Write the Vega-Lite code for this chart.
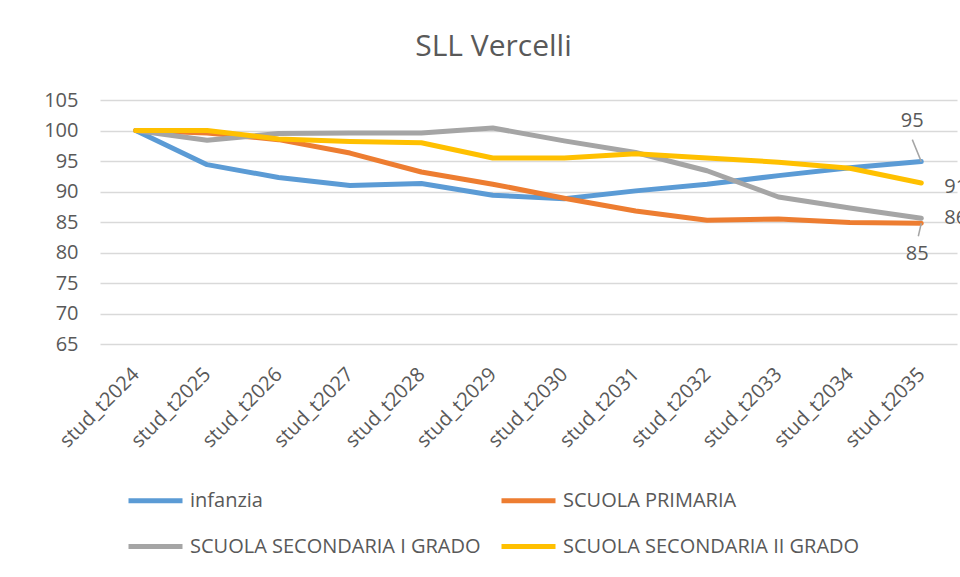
{
  "$schema": "https://vega.github.io/schema/vega-lite/v6.json",
  "width": 857,
  "height": 244,
  "autosize": {"type": "none"},
  "padding": {"left": 100, "top": 100, "right": 3, "bottom": 233},
  "background": "white",
  "title": {
    "text": "SLL Vercelli",
    "font": "Open Sans",
    "fontSize": 30,
    "fontWeight": "normal",
    "color": "#595959",
    "anchor": "middle",
    "baseline": "alphabetic",
    "offset": 4,
    "dx": -35
  },
  "config": {
    "view": {"stroke": null},
    "font": "Open Sans",
    "axis": {
      "labelFont": "Open Sans",
      "labelFontSize": 20,
      "labelColor": "#595959",
      "domain": false,
      "ticks": false,
      "title": null
    },
    "legend": {
      "labelFont": "Open Sans",
      "labelFontSize": 20,
      "labelColor": "#595959",
      "labelLimit": 0
    }
  },
  "data": {
    "values": [
      {"anno": "stud_t2024", "serie": "infanzia", "valore": 100},
      {"anno": "stud_t2025", "serie": "infanzia", "valore": 94.4},
      {"anno": "stud_t2026", "serie": "infanzia", "valore": 92.3},
      {"anno": "stud_t2027", "serie": "infanzia", "valore": 91.0},
      {"anno": "stud_t2028", "serie": "infanzia", "valore": 91.3},
      {"anno": "stud_t2029", "serie": "infanzia", "valore": 89.4},
      {"anno": "stud_t2030", "serie": "infanzia", "valore": 88.8},
      {"anno": "stud_t2031", "serie": "infanzia", "valore": 90.1},
      {"anno": "stud_t2032", "serie": "infanzia", "valore": 91.2},
      {"anno": "stud_t2033", "serie": "infanzia", "valore": 92.6},
      {"anno": "stud_t2034", "serie": "infanzia", "valore": 93.9},
      {"anno": "stud_t2035", "serie": "infanzia", "valore": 94.9},
      {"anno": "stud_t2024", "serie": "SCUOLA PRIMARIA", "valore": 100},
      {"anno": "stud_t2025", "serie": "SCUOLA PRIMARIA", "valore": 99.6},
      {"anno": "stud_t2026", "serie": "SCUOLA PRIMARIA", "valore": 98.5},
      {"anno": "stud_t2027", "serie": "SCUOLA PRIMARIA", "valore": 96.3},
      {"anno": "stud_t2028", "serie": "SCUOLA PRIMARIA", "valore": 93.2},
      {"anno": "stud_t2029", "serie": "SCUOLA PRIMARIA", "valore": 91.2},
      {"anno": "stud_t2030", "serie": "SCUOLA PRIMARIA", "valore": 88.9},
      {"anno": "stud_t2031", "serie": "SCUOLA PRIMARIA", "valore": 86.8},
      {"anno": "stud_t2032", "serie": "SCUOLA PRIMARIA", "valore": 85.3},
      {"anno": "stud_t2033", "serie": "SCUOLA PRIMARIA", "valore": 85.5},
      {"anno": "stud_t2034", "serie": "SCUOLA PRIMARIA", "valore": 84.9},
      {"anno": "stud_t2035", "serie": "SCUOLA PRIMARIA", "valore": 84.8},
      {"anno": "stud_t2024", "serie": "SCUOLA SECONDARIA I GRADO", "valore": 100},
      {"anno": "stud_t2025", "serie": "SCUOLA SECONDARIA I GRADO", "valore": 98.4},
      {"anno": "stud_t2026", "serie": "SCUOLA SECONDARIA I GRADO", "valore": 99.5},
      {"anno": "stud_t2027", "serie": "SCUOLA SECONDARIA I GRADO", "valore": 99.6},
      {"anno": "stud_t2028", "serie": "SCUOLA SECONDARIA I GRADO", "valore": 99.6},
      {"anno": "stud_t2029", "serie": "SCUOLA SECONDARIA I GRADO", "valore": 100.4},
      {"anno": "stud_t2030", "serie": "SCUOLA SECONDARIA I GRADO", "valore": 98.3},
      {"anno": "stud_t2031", "serie": "SCUOLA SECONDARIA I GRADO", "valore": 96.4},
      {"anno": "stud_t2032", "serie": "SCUOLA SECONDARIA I GRADO", "valore": 93.4},
      {"anno": "stud_t2033", "serie": "SCUOLA SECONDARIA I GRADO", "valore": 89.1},
      {"anno": "stud_t2034", "serie": "SCUOLA SECONDARIA I GRADO", "valore": 87.3},
      {"anno": "stud_t2035", "serie": "SCUOLA SECONDARIA I GRADO", "valore": 85.6},
      {"anno": "stud_t2024", "serie": "SCUOLA SECONDARIA II GRADO", "valore": 100},
      {"anno": "stud_t2025", "serie": "SCUOLA SECONDARIA II GRADO", "valore": 100},
      {"anno": "stud_t2026", "serie": "SCUOLA SECONDARIA II GRADO", "valore": 98.6},
      {"anno": "stud_t2027", "serie": "SCUOLA SECONDARIA II GRADO", "valore": 98.2},
      {"anno": "stud_t2028", "serie": "SCUOLA SECONDARIA II GRADO", "valore": 98.0},
      {"anno": "stud_t2029", "serie": "SCUOLA SECONDARIA II GRADO", "valore": 95.5},
      {"anno": "stud_t2030", "serie": "SCUOLA SECONDARIA II GRADO", "valore": 95.5},
      {"anno": "stud_t2031", "serie": "SCUOLA SECONDARIA II GRADO", "valore": 96.2},
      {"anno": "stud_t2032", "serie": "SCUOLA SECONDARIA II GRADO", "valore": 95.5},
      {"anno": "stud_t2033", "serie": "SCUOLA SECONDARIA II GRADO", "valore": 94.8},
      {"anno": "stud_t2034", "serie": "SCUOLA SECONDARIA II GRADO", "valore": 93.8},
      {"anno": "stud_t2035", "serie": "SCUOLA SECONDARIA II GRADO", "valore": 91.4}
    ]
  },
  "encoding": {
    "x": {
      "field": "anno",
      "type": "ordinal",
      "sort": null,
      "scale": {"type": "point", "padding": 0.5},
      "axis": {
        "labelAngle": -45,
        "labelAlign": "right",
        "labelBaseline": "middle",
        "labelPadding": 27,
        "grid": false
      }
    },
    "y": {
      "field": "valore",
      "type": "quantitative",
      "scale": {"domain": [65, 105], "nice": false, "zero": false},
      "axis": {
        "values": [65, 70, 75, 80, 85, 90, 95, 100, 105],
        "labelPadding": 22,
        "grid": true,
        "gridColor": "#d9d9d9",
        "gridWidth": 1.5
      }
    }
  },
  "layer": [
    {
      "mark": {"type": "line", "strokeWidth": 5, "strokeCap": "round", "strokeJoin": "round"},
      "encoding": {
        "color": {
          "field": "serie",
          "type": "nominal",
          "scale": {
            "domain": ["infanzia", "SCUOLA PRIMARIA", "SCUOLA SECONDARIA I GRADO", "SCUOLA SECONDARIA II GRADO"],
            "range": ["#5B9BD5", "#ED7D31", "#A5A5A5", "#FFC000"]
          },
          "legend": {
            "title": null,
            "orient": "none",
            "legendX": 26,
            "legendY": 371,
            "columns": 2,
            "direction": "horizontal",
            "symbolType": "stroke",
            "symbolSize": 2916,
            "symbolStrokeWidth": 5,
            "labelOffset": 5,
            "columnPadding": 10,
            "rowPadding": 6,
            "padding": 0
          }
        }
      }
    },
    {
      "transform": [{"filter": "datum.anno == 'stud_t2035' && datum.serie == 'infanzia'"}],
      "mark": {"type": "rule", "color": "#A5A5A5", "strokeWidth": 1.5, "x2Offset": -9, "y2Offset": -22},
      "encoding": {"x2": {"field": "anno"}, "y2": {"field": "valore"}}
    },
    {
      "transform": [{"filter": "datum.anno == 'stud_t2035' && datum.serie == 'SCUOLA PRIMARIA'"}],
      "mark": {"type": "rule", "color": "#A5A5A5", "strokeWidth": 1.5, "x2Offset": -3, "y2Offset": 13},
      "encoding": {"x2": {"field": "anno"}, "y2": {"field": "valore"}}
    },
    {
      "transform": [{"filter": "datum.anno == 'stud_t2035' && datum.serie == 'infanzia'"}],
      "mark": {"type": "text", "font": "Open Sans", "fontSize": 20, "color": "#595959", "align": "center", "baseline": "middle", "dx": -9, "dy": -41},
      "encoding": {"text": {"field": "valore", "type": "quantitative", "format": ".0f"}}
    },
    {
      "transform": [{"filter": "datum.anno == 'stud_t2035' && datum.serie == 'SCUOLA PRIMARIA'"}],
      "mark": {"type": "text", "font": "Open Sans", "fontSize": 20, "color": "#595959", "align": "center", "baseline": "middle", "dx": -4, "dy": 31},
      "encoding": {"text": {"field": "valore", "type": "quantitative", "format": ".0f"}}
    },
    {
      "transform": [{"filter": "datum.anno == 'stud_t2035' && datum.serie == 'SCUOLA SECONDARIA I GRADO'"}],
      "mark": {"type": "text", "font": "Open Sans", "fontSize": 20, "color": "#595959", "align": "left", "baseline": "middle", "dx": 23, "dy": 0},
      "encoding": {"text": {"field": "valore", "type": "quantitative", "format": ".0f"}}
    },
    {
      "transform": [{"filter": "datum.anno == 'stud_t2035' && datum.serie == 'SCUOLA SECONDARIA II GRADO'"}],
      "mark": {"type": "text", "font": "Open Sans", "fontSize": 20, "color": "#595959", "align": "left", "baseline": "middle", "dx": 23, "dy": 4},
      "encoding": {"text": {"field": "valore", "type": "quantitative", "format": ".0f"}}
    }
  ]
}
